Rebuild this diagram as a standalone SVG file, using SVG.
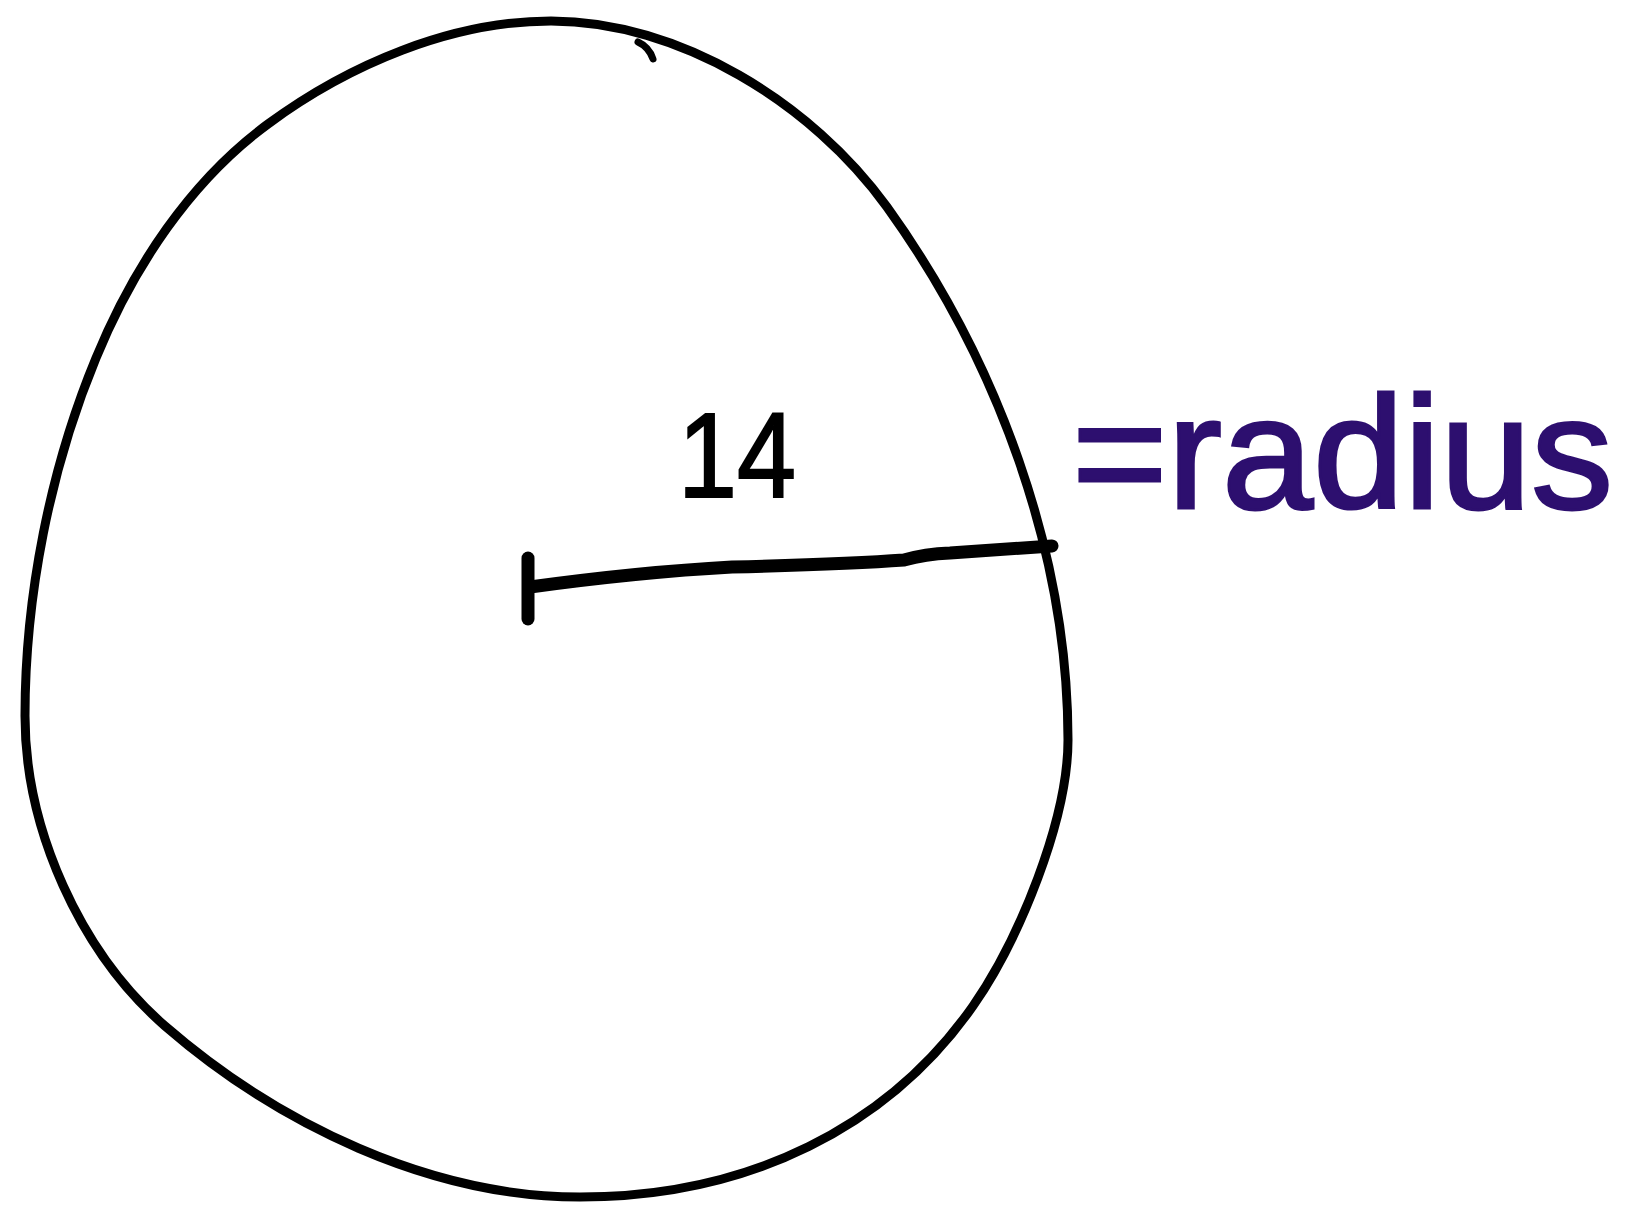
<svg xmlns="http://www.w3.org/2000/svg" width="1625" height="1207" viewBox="0 0 1625 1207">
<style>
.ink{fill:none;stroke:#000;stroke-linecap:round;stroke-linejoin:round}
.lbl{font-family:"Liberation Sans",Arial,sans-serif}
</style>
<rect width="1625" height="1207" fill="#fff"/>
<g id="circle">
<path class="ink" stroke-width="9" d="M551,21 C679,21 812,103 887,207 C997,360 1068,552 1068,740 C1068,820 1019,940 973,1006 C889,1126 750,1197 580,1197 C430,1197 278,1124 165,1026 C80,952 25,829 25,716 C25,596 50,469 96,358 C133,268 190,181 268,124 C348,65 451,21 551,21 Z"/>
<path class="ink" stroke-width="7" d="M638,42 Q649,47 653,59"/>
</g>
<g id="connectors">
<path class="ink" stroke-width="13" d="M528,558 L528,619"/>
<path class="ink" stroke-width="13" d="M530,587 Q640,572 732,567 Q850,564 904,560 Q925,554 950,553 L1052,546"/>
</g>
<g id="label-14">
<text class="lbl" x="678" y="497" font-size="121" textLength="118" lengthAdjust="spacingAndGlyphs" fill="#000" stroke="#000" stroke-width="2">14</text>
</g>
<g id="label-radius">
<text class="lbl" x="1072" y="508" font-size="160" textLength="541" lengthAdjust="spacingAndGlyphs" fill="#2d0f6f" stroke="#2d0f6f" stroke-width="3">=radius</text>
</g>
</svg>
